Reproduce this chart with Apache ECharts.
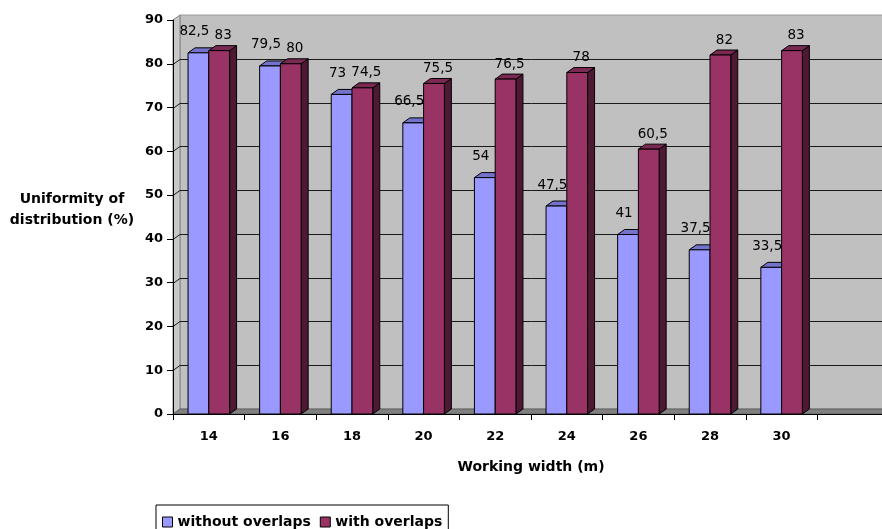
<!DOCTYPE html>
<html>
<head>
<meta charset="utf-8">
<script src="https://cdn.jsdelivr.net/npm/echarts@6/dist/echarts.min.js"></script>
<style>
  html, body { margin: 0; padding: 0; background: #fff; }
  #chart { width: 882px; height: 529px; }
</style>
</head>
<body>
<div id="chart"></div>
<script>
const categories = ['14', '16', '18', '20', '22', '24', '26', '28', '30', ''];
const withoutOverlaps = [82.5, 79.5, 73, 66.5, 54, 47.5, 41, 37.5, 33.5];
const withOverlaps = [83, 80, 74.5, 75.5, 76.5, 78, 60.5, 82, 83];
const yTicks = [0, 10, 20, 30, 40, 50, 60, 70, 80, 90];
const yTitle = 'Uniformity of\ndistribution (%)';
const xTitle = 'Working width (m)';

const DX = 7, DY = 5;
const FONT = '"DejaVu Sans", Verdana, sans-serif';

function fmt(v) { return String(v).replace('.', ','); }

function barRenderer(side, colors, labelDx, labelDy) {
  return function (params, api) {
    const idx = api.value(0), v = api.value(1);
    const top = api.coord([idx, v]);
    const base = api.coord([idx, 0]);
    const cx = top[0], yT = top[1], y0 = base[1];
    const band = api.size([1, 0])[0];
    const bw = band * 0.29;
    const x0 = side === 0 ? cx - bw : cx;
    const x1 = x0 + bw;
    return {
      type: 'group',
      children: [
        { type: 'polygon', shape: { points: [[x1, y0], [x1 + DX, y0 - DY], [x1 + DX, yT - DY], [x1, yT]] },
          style: { fill: colors.side, stroke: '#000', lineWidth: 1 } },
        { type: 'polygon', shape: { points: [[x0, yT], [x0 + DX, yT - DY], [x1 + DX, yT - DY], [x1, yT]] },
          style: { fill: colors.top, stroke: '#000', lineWidth: 1 } },
        { type: 'rect', shape: { x: x0, y: yT, width: bw, height: y0 - yT },
          style: { fill: colors.front, stroke: '#000', lineWidth: 1 } },
        { type: 'text', x: (x0 + x1) / 2 + labelDx, y: yT - labelDy, z2: 20,
          style: { text: fmt(v), fill: '#000', font: '13.5px ' + FONT, align: 'center', verticalAlign: 'middle' } }
      ]
    };
  };
}

function backgroundRenderer(params, api) {
  const band = api.size([1, 0])[0];
  const xL = api.coord([0, 0])[0] - band / 2;
  const xR = xL + band * categories.length;
  const y0 = api.coord([0, yTicks[0]])[1];
  const yT = api.coord([0, yTicks[yTicks.length - 1]])[1];
  const children = [
    { type: 'rect', shape: { x: xL + DX, y: yT - DY, width: xR - xL, height: y0 - yT },
      style: { fill: '#C0C0C0', stroke: '#9a9a9a', lineWidth: 1 } },
    { type: 'polygon', shape: { points: [[xL, y0], [xL + DX, y0 - DY], [xL + DX, yT - DY], [xL, yT]] },
      style: { fill: '#C8C8C8', stroke: '#808080', lineWidth: 1 } },
    { type: 'polygon', shape: { points: [[xL, y0], [xL + DX, y0 - DY], [xR + DX, y0 - DY], [xR, y0]] },
      style: { fill: '#808080', stroke: '#606060', lineWidth: 1 } }
  ];
  yTicks.forEach(function (t, i) {
    if (i === 0 || i === yTicks.length - 1) return;
    const y = Math.round(api.coord([0, t])[1]) + 0.5;
    children.push({ type: 'line', shape: { x1: xL + DX, y1: y - DY, x2: xR + DX, y2: y - DY },
      style: { stroke: '#1a1a1a', lineWidth: 1 } });
    children.push({ type: 'line', shape: { x1: xL, y1: y, x2: xL + DX, y2: y - DY },
      style: { stroke: '#1a1a1a', lineWidth: 1 } });
  });
  return { type: 'group', children: children };
}

const chart = echarts.init(document.getElementById('chart'));
chart.setOption({
  animation: false,
  backgroundColor: '#fff',
  grid: { left: 173, right: -7, top: 20, bottom: 115, containLabel: false, outerBoundsMode: 'none' },
  graphic: [
    { type: 'text', x: 72, y: 210,
      style: { text: yTitle, font: 'bold 14px ' + FONT, fill: '#000', align: 'center', verticalAlign: 'middle', lineHeight: 21 } }
  ],
  legend: {
    left: 156, top: 505,
    padding: [10, 6, 8, 6],
    borderColor: '#000', borderWidth: 1,
    itemWidth: 10, itemHeight: 10, itemGap: 9,
    icon: 'rect',
    textStyle: { fontFamily: FONT, fontWeight: 'bold', fontSize: 14, color: '#000' },
    data: [
      { name: 'without overlaps', itemStyle: { color: '#9999FF', borderColor: '#000', borderWidth: 1 } },
      { name: 'with overlaps', itemStyle: { color: '#993366', borderColor: '#000', borderWidth: 1 } }
    ]
  },
  xAxis: {
    type: 'category',
    data: categories,
    boundaryGap: true,
    name: xTitle,
    nameLocation: 'middle',
    nameGap: 46,
    nameTextStyle: { fontFamily: FONT, fontWeight: 'bold', fontSize: 14, color: '#000' },
    axisLine: { lineStyle: { color: '#000', width: 1 } },
    axisTick: { show: true, length: 6, lineStyle: { color: '#000' } },
    axisLabel: { margin: 16, fontFamily: FONT, fontWeight: 'bold', fontSize: 13, color: '#000' },
    splitLine: { show: false }
  },
  yAxis: {
    type: 'value',
    min: yTicks[0], max: yTicks[yTicks.length - 1], interval: 10,
    axisLine: { show: true, lineStyle: { color: '#000', width: 1 } },
    axisTick: { show: true, length: 6, lineStyle: { color: '#000' } },
    axisLabel: { margin: 10, fontFamily: FONT, fontWeight: 'bold', fontSize: 13, color: '#000' },
    splitLine: { show: false }
  },
  series: [
    { type: 'custom', name: 'background', z: 0, silent: true, clip: false,
      renderItem: backgroundRenderer, data: [[0, 0]] },
    { type: 'custom', name: 'without overlaps', z: 2, clip: false,
      itemStyle: { color: '#9999FF', borderColor: '#000', borderWidth: 1 },
      renderItem: barRenderer(0, { front: '#9999FF', top: '#7373CC', side: '#4D4D80' }, -4, 21),
      data: withoutOverlaps.map(function (v, i) { return [i, v]; }) },
    { type: 'custom', name: 'with overlaps', z: 3, clip: false,
      itemStyle: { color: '#993366', borderColor: '#000', borderWidth: 1 },
      renderItem: barRenderer(1, { front: '#993366', top: '#7A2952', side: '#4D1933' }, 4, 15),
      data: withOverlaps.map(function (v, i) { return [i, v]; }) }
  ]
});
</script>
</body>
</html>
